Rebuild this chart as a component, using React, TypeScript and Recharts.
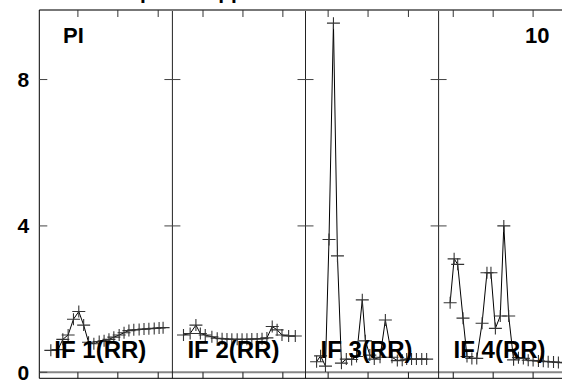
import React from 'react';
import { ComposedChart, Line, XAxis, YAxis, ReferenceLine } from 'recharts';

// ---- data ----
const PANEL_SPAN = 30;
const panelLabels = ['IF 1(RR)', 'IF 2(RR)', 'IF 3(RR)', 'IF 4(RR)'];
const stationLabel = 'PI';
const antennaLabel = '10';
const titleText = 'Plot 1 with phase applied';

const yTicks = [0, 4, 8];
const xTicksLocal = [
  [8.7, 17.7, 26.8],
  [6.9, 15.9, 24.9],
  [5.1, 14.1, 23.2],
  [3.3, 12.3, 21.3],
];

const if1X = [2.6, 4.2, 5.3, 6.5, 7.7, 8.9, 10.0, 11.1, 12.3, 13.5, 14.6, 15.7, 16.8, 18.0, 19.1, 20.2, 21.3, 22.5, 23.6, 24.7, 25.9, 27.0, 27.9];
const if1Y = [0.6, 0.62, 0.9, 1.02, 1.45, 1.66, 1.29, 0.82, 0.78, 0.84, 0.86, 0.9, 0.96, 1.02, 1.08, 1.14, 1.16, 1.17, 1.18, 1.19, 1.2, 1.21, 1.22];

const if2X = [2.5, 4.0, 5.3, 6.3, 7.4, 8.9, 10.1, 11.2, 12.3, 13.4, 14.6, 15.7, 16.8, 17.9, 19.1, 20.2, 21.3, 22.5, 23.6, 24.7, 26.2, 27.7];
const if2Y = [1.02, 1.06, 1.29, 1.06, 1.02, 0.97, 0.93, 0.92, 0.91, 0.9, 0.9, 0.9, 0.9, 0.91, 0.91, 0.92, 0.94, 1.25, 1.16, 1.02, 0.99, 0.99];

const if3X = [2.5, 3.4, 4.5, 5.3, 6.3, 7.2, 8.1, 9.2, 10.4, 11.5, 12.8, 13.5, 14.5, 15.5, 16.8, 18.0, 19.5, 20.7, 21.8, 22.8, 23.9, 25.0, 26.2, 27.3];
const if3Y = [0.29, 0.45, 0.17, 3.63, 9.54, 3.18, 0.25, 0.36, 0.35, 0.43, 1.98, 0.86, 0.47, 0.36, 0.41, 1.43, 0.41, 0.32, 0.33, 0.36, 0.36, 0.36, 0.36, 0.36];

const if4X = [2.6, 3.5, 4.3, 5.5, 6.4, 7.5, 8.6, 9.8, 10.9, 11.8, 12.8, 13.9, 14.7, 15.8, 16.9, 18.0, 19.1, 20.2, 21.3, 22.5, 23.6, 24.7, 25.9, 27.0, 28.1];
const if4Y = [1.9, 3.1, 2.95, 1.48, 0.43, 0.38, 0.38, 1.34, 2.72, 2.72, 1.2, 1.54, 4.0, 1.54, 0.34, 0.4, 0.38, 0.33, 0.32, 0.31, 0.3, 0.29, 0.28, 0.27, 0.26];

const seriesX = [if1X, if2X, if3X, if4X];
const seriesY = [if1Y, if2Y, if3Y, if4Y];

// ---- layout ----
const W = 580;
const H = 385;
const AX = 1; // axis band size
const M = { top: 10 - AX, left: 39.3 - AX, right: 8.3, bottom: 6.7 - AX };
const PLOT_LEFT = 39.3;
const PLOT_W = W - PLOT_LEFT - M.right;
const PANEL_PX = PLOT_W / 4;
const FONT = '"Liberation Sans", Arial, Helvetica, sans-serif';

const panelData = seriesX.map((xs, p) =>
  xs.map((x, i) => ({ x: p * PANEL_SPAN + x, y: seriesY[p][i] }))
);
const globalTicks = xTicksLocal.flatMap((arr, p) => arr.map((v) => p * PANEL_SPAN + v));
const separators = [1, 2, 3].map((p) => p * PANEL_SPAN);
const sepHalf = 8 / (PLOT_W / (4 * PANEL_SPAN));

const CrossDot = (props: any) => {
  const { cx, cy, index } = props;
  if (cx == null || cy == null) return <g key={index} />;
  return (
    <path
      key={index}
      d={`M${cx - 6.5},${cy}h13M${cx},${cy - 6}v12`}
      stroke="#333"
      strokeWidth={1.1}
      fill="none"
    />
  );
};

const BottomTick = (props: any) => {
  const { x, y } = props;
  return <line x1={x} x2={x} y1={y} y2={y - 6} stroke="#111" strokeWidth={1} />;
};
const TopTick = (props: any) => {
  const { x, y } = props;
  return <line x1={x} x2={x} y1={y} y2={y + 7} stroke="#333" strokeWidth={1} />;
};
const LeftTick = (props: any) => {
  const { x, y, payload } = props;
  return (
    <g>
      <line x1={x} x2={x + 8} y1={y} y2={y} stroke="#444" strokeWidth={1} />
      <text
        x={x - 10}
        y={y + 7.5}
        textAnchor="end"
        fontFamily={FONT}
        fontWeight="bold"
        fontSize={21}
        fill="#000"
      >
        {payload.value}
      </text>
    </g>
  );
};

export default function App() {
  return (
    <div style={{ position: 'absolute', left: 0, top: 0, width: 562, height: 385, overflow: 'hidden', background: '#fff' }}>
      <div style={{ position: 'relative', width: W, height: H }}>
        <ComposedChart width={W} height={H} margin={M}>
          <XAxis
            xAxisId="b"
            type="number"
            dataKey="x"
            domain={[0, 4 * PANEL_SPAN]}
            ticks={globalTicks}
            interval={0}
            height={AX}
            tickSize={0}
            tickMargin={0}
            tickLine={false}
            tick={<BottomTick />}
            axisLine={{ stroke: '#000', strokeWidth: 1 }}
            allowDataOverflow
          />
          <XAxis
            xAxisId="t"
            orientation="top"
            type="number"
            dataKey="x"
            domain={[0, 4 * PANEL_SPAN]}
            ticks={globalTicks}
            interval={0}
            height={AX}
            tickSize={0}
            tickMargin={0}
            tickLine={false}
            tick={<TopTick />}
            axisLine={{ stroke: '#777', strokeWidth: 2 }}
            allowDataOverflow
          />
          <YAxis
            type="number"
            domain={[-0.164, 9.9]}
            ticks={yTicks}
            interval={0}
            width={AX}
            tickSize={0}
            tickMargin={0}
            tickLine={false}
            tick={<LeftTick />}
            axisLine={{ stroke: '#000', strokeWidth: 1 }}
            allowDataOverflow
          />
          <ReferenceLine xAxisId="b" y={0} stroke="#888" strokeWidth={2} />
          {separators.map((s) => (
            <ReferenceLine key={`sep${s}`} xAxisId="b" x={s} stroke="#222" strokeWidth={1} />
          ))}
          {separators.flatMap((s) =>
            [4, 8].map((t) => (
              <ReferenceLine
                key={`st${s}-${t}`}
                xAxisId="b"
                segment={[
                  { x: s - sepHalf, y: t },
                  { x: s + sepHalf, y: t },
                ]}
                stroke="#444"
                strokeWidth={1}
              />
            ))
          )}
          {panelData.map((d, p) => (
            <Line
              key={`if${p}`}
              xAxisId="b"
              data={d}
              dataKey="y"
              type="linear"
              stroke="#000"
              strokeWidth={1}
              dot={CrossDot}
              activeDot={false}
              isAnimationActive={false}
            />
          ))}
        </ComposedChart>
        <svg
          width={W}
          height={H}
          style={{ position: 'absolute', left: 0, top: 0, pointerEvents: 'none' }}
        >
          <text x={280} y={-1} textAnchor="end" fontFamily={FONT} fontWeight="bold" fontSize={21} fill="#000">
            {titleText}
          </text>
          <text x={63} y={42.5} fontFamily={FONT} fontWeight="bold" fontSize={22} fill="#000">
            {stationLabel}
          </text>
          <text x={549.5} y={43} textAnchor="end" fontFamily={FONT} fontWeight="bold" fontSize={22} fill="#000">
            {antennaLabel}
          </text>
          {panelLabels.map((lab, p) => (
            <text
              key={lab}
              x={PLOT_LEFT + p * PANEL_PX + 15}
              y={358}
              fontFamily={FONT}
              fontWeight="bold"
              fontSize={24}
              fill="#000"
            >
              {lab}
            </text>
          ))}
        </svg>
      </div>
    </div>
  );
}
